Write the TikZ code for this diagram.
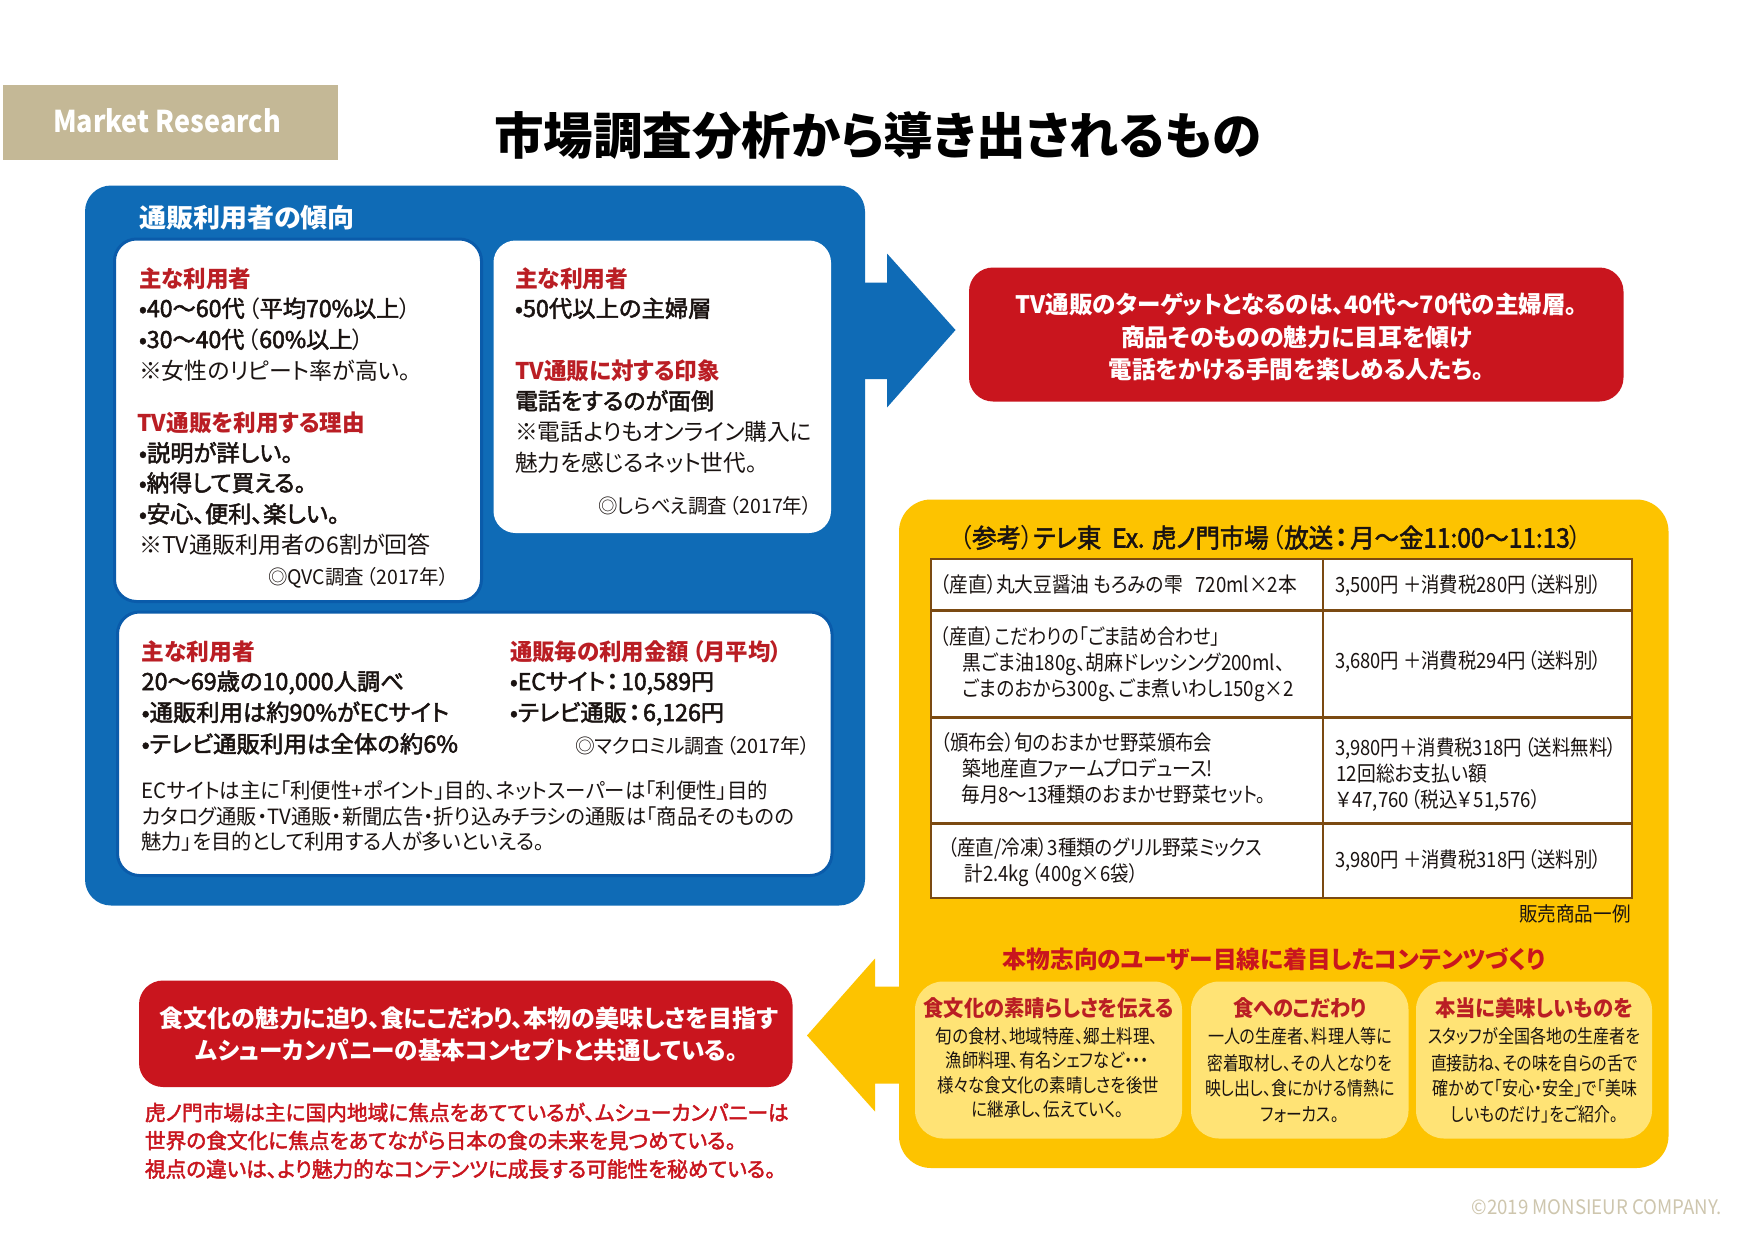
\documentclass[tikz,border=0pt]{standalone}
\usepackage{graphicx}
\usepackage{fontspec}
\newfontfamily\jr[RawFeature={+palt}]{Noto Sans CJK JP}
\newfontfamily\jn{Noto Sans CJK JP}
\definecolor{pblue}{HTML}{0F6BB6}
\definecolor{pblued}{HTML}{0A5BAA}
\definecolor{pred}{HTML}{C9151E}
\definecolor{hred}{HTML}{BA1E24}
\definecolor{pyel}{HTML}{FDC300}
\definecolor{lyel}{HTML}{FFE375}
\definecolor{tan}{HTML}{C4B896}
\definecolor{lightan}{HTML}{CEC6AE}
\definecolor{brown}{HTML}{7B4A12}
\definecolor{ink}{HTML}{1A1311}
\newsavebox\tb
\newlength\tbl
\newcounter{tln}
% one printed line: left x, right x, baseline y, format, text
\newcommand\tl[5]{\stepcounter{tln}%
  \node[anchor=base west,inner sep=0pt,outer sep=0pt] (t\arabic{tln}) at (#1,#3+1)
  {\sbox\tb{#4#5}\setlength\tbl{\wd\tb}\pgfmathsetmacro\tr{(#2-#1)*0.5/\tbl}\scalebox{\tr}[1]{\usebox\tb}};}
% a filled panel: style, name, x1, y1, x2, y2
\newcommand\bx[6]{\node[#1,anchor=north west,inner sep=0pt,outer sep=0pt,
  minimum width={(#5-#3)*0.5pt},minimum height={(#6-#4)*0.5pt}] (#2) at (#3,#4) {};}
\newcommand\jmf[1]{\fontsize{#1}{#1}\selectfont\font\jmface="Noto Sans CJK JP:embolden=2.2;+palt" at #1pt\jmface}
\newcommand\RH[1]{\jr\bfseries\fontsize{#1}{#1}\selectfont\color{hred}}
\newcommand\BK[1]{\jmf{#1}\color{ink}}
\newcommand\RG[1]{\jr\fontsize{#1}{#1}\selectfont\color{ink}}
\newcommand\WH[1]{\jr\bfseries\fontsize{#1}{#1}\selectfont\color{white}}
% full-width glyphs as the reference prints them
\begingroup\jn\xdef\jnfam{\csname f@family\endcsname}\endgroup
\begingroup\jr\xdef\jrfam{\csname f@family\endcsname}\endgroup
\newcommand\ps{{\fontfamily{\jrfam}\selectfont\char"FF08\relax}}
\newcommand\po{{\fontfamily{\jrfam}\selectfont\kern.14em\char"FF08\relax}}
\newcommand\pc{{\fontfamily{\jrfam}\selectfont\char"FF09\relax}}
\newcommand\pl{{\fontfamily{\jnfam}\selectfont\char"FF0B\relax}}
\newcommand\yn{{\fontfamily{\jrfam}\selectfont\char"FFE5\kern.08em\relax}}
\newcommand\cl{{\fontfamily{\jrfam}\bfseries\selectfont\kern.1em\char"FF1A\kern.1em\relax}}
\begin{document}
\begin{tikzpicture}[x=0.5pt,y=-0.5pt,
  banner/.style={fill=tan},
  bluepanel/.style={fill=pblue,rounded corners=13pt},
  whiteplain/.style={fill=white,rounded corners=11pt},
  whitepanel/.style={fill=white,draw=pblued,line width=1.5pt,rounded corners=11pt},
  redpanel/.style={fill=pred,rounded corners=12pt},
  yellowpanel/.style={fill=pyel,rounded corners=16pt},
  lightpanel/.style={fill=lyel,rounded corners=14pt},
  tline/.style={draw=brown,line width=1.1pt}]
\useasboundingbox (0,0) rectangle (1755,1242);
\fill[white] (0,0) rectangle (1755,1242);

\bx{banner}{ban}{3}{85}{338}{159.5}
\tl{53}{281}{131}{\jr\bfseries\fontsize{15}{15}\selectfont\color{white}}{Market Research}
\tl{494}{1261}{153}{\jr\bfseries\fontsize{25}{25}\selectfont\color{black}}{市場調査分析から導き出されるもの}

% blue panel and arrow
\fill[pblue] (860,282.5) -- (887,282.5) -- (887,253.5) -- (955.5,330) -- (887,407.5) -- (887,379) -- (860,379) -- cycle;
\bx{bluepanel}{blue}{85}{185.5}{865}{905.5}
\tl{139}{355}{226}{\jr\bfseries\fontsize{13}{13}\selectfont\color{white}}{通販利用者の傾向}
\bx{whitepanel}{wa}{114.5}{239}{481.5}{601.5}
\bx{whiteplain}{wb}{493.5}{240.5}{831}{533}
\bx{whitepanel}{wc}{117.5}{612}{832}{875.5}

\tl{139}{251}{286.5}{\RH{11.5}}{主な利用者}
\tl{139}{411}{316}{\BK{11.5}}{•40〜60代\po 平均70\%以上\pc}
\tl{139}{364}{347}{\BK{11.5}}{•30〜40代\po 60\%以上\pc}
\tl{139}{411}{378}{\RG{11.5}}{※女性のリピート率が高い。}
\tl{137.5}{365}{430}{\RH{11.5}}{TV通販を利用する理由}
\tl{139}{293}{460.5}{\BK{11.5}}{•説明が詳しい。}
\tl{139}{306}{490.5}{\BK{11.5}}{•納得して買える。}
\tl{139}{339.5}{521.5}{\BK{11.5}}{•安心、便利、楽しい。}
\tl{139}{431}{552.5}{\RG{11.5}}{※TV通販利用者の6割が回答}
\tl{268}{449}{583}{\RG{10}}{◎QVC調査\po 2017年\pc}

\tl{515}{628.5}{286.5}{\RH{11.5}}{主な利用者}
\tl{515}{711.5}{316}{\BK{11.5}}{•50代以上の主婦層}
\tl{515}{720}{378.5}{\RH{11.5}}{TV通販に対する印象}
\tl{515}{714}{408.5}{\BK{11.5}}{電話をするのが面倒}
\tl{515}{812}{439}{\RG{11.5}}{※電話よりもオンライン購入に}
\tl{515}{757.5}{470}{\RG{11.5}}{魅力を感じるネット世代。}
\tl{598}{812}{512}{\RG{10}}{◎しらべえ調査\po 2017年\pc}

\tl{141.7}{255}{659.5}{\RH{11.5}}{主な利用者}
\tl{141.7}{404}{689}{\BK{11.5}}{20〜69歳の10,000人調べ}
\tl{141.7}{449}{720}{\BK{11.5}}{•通販利用は約90\%がECサイト}
\tl{141.7}{458}{751.5}{\BK{11.5}}{•テレビ通販利用は全体の約6\%}
\tl{510}{782}{659.5}{\RH{11.5}}{通販毎の利用金額\po 月平均\pc}
\tl{510}{714}{689}{\BK{11.5}}{•ECサイト\cl 10,589円}
\tl{510}{724}{720}{\BK{11.5}}{•テレビ通販\cl 6,126円}
\tl{575}{810.6}{752.5}{\RG{10}}{◎マクロミル調査\po 2017年\pc}
\tl{141.7}{768}{797.5}{\RG{10.5}}{ECサイトは主に「利便性+ポイント」目的、ネットスーパーは「利便性」目的}
\tl{141.7}{794}{823.5}{\RG{10.5}}{カタログ通販・TV通販・新聞広告・折り込みチラシの通販は「商品そのものの}
\tl{141.7}{544.4}{848.5}{\RG{10.5}}{魅力」を目的として利用する人が多いといえる。}

% top red panel
\bx{redpanel}{redtop}{969}{267.5}{1623.5}{401.5}
\tl{1015.6}{1577.5}{312}{\WH{12}}{TV通販のターゲットとなるのは、40代〜70代の主婦層。}
\tl{1121}{1472.6}{345.5}{\WH{12}}{商品そのものの魅力に目耳を傾け}
\tl{1108.8}{1484}{377.5}{\WH{12}}{電話をかける手間を楽しめる人たち。}

% yellow panel and arrow
\fill[pyel] (902,986.5) -- (875,986.5) -- (875,958.5) -- (807,1035.5) -- (875,1111.5) -- (875,1083.5) -- (902,1083.5) -- cycle;
\bx{yellowpanel}{yel}{899}{499.5}{1668.5}{1168}
\tl{960}{1582}{546.5}{\BK{13}}{\ps 参考\pc テレ東\ \ Ex. 虎ノ門市場\po 放送\cl 月〜金11:00〜11:13\pc}

% table
\bx{fill=white,tline}{tab}{931}{559}{1632}{898}
\draw[tline] (931,610.5) -- (1632,610.5);
\draw[tline] (931,717.5) -- (1632,717.5);
\draw[tline] (931,823.5) -- (1632,823.5);
\draw[tline] (1323,559) -- (1323,898);

\tl{940}{1297}{591.7}{\RG{10.5}}{\ps 産直\pc 丸大豆醤油 もろみの雫\ \ \ 720ml×2本}
\tl{1335}{1601.5}{591.7}{\RG{10.5}}{3,500円 \pl 消費税280円\po 送料別\pc}
\tl{940}{1220}{643}{\RG{10.5}}{\ps 産直\pc こだわりの「ごま詰め合わせ」}
\tl{962.6}{1284.6}{669}{\RG{10.5}}{黒ごま油180g、胡麻ドレッシング200ml、}
\tl{962.6}{1294}{695}{\RG{10.5}}{ごまのおから300g、ごま煮いわし150g×2}
\tl{1335}{1601.5}{667.6}{\RG{10.5}}{3,680円 \pl 消費税294円\po 送料別\pc}
\tl{941}{1212}{749}{\RG{10.5}}{\ps 頒布会\pc 旬のおまかせ野菜頒布会}
\tl{962.6}{1213}{775}{\RG{10.5}}{築地産直ファームプロデュース!}
\tl{961.5}{1266}{801.5}{\RG{10.5}}{毎月8〜13種類のおまかせ野菜セット。}
\tl{1335}{1616.6}{754.6}{\RG{10.5}}{3,980円\pl 消費税318円\po 送料無料\pc}
\tl{1336.5}{1487}{780}{\RG{10.5}}{12回総お支払い額}
\tl{1336.5}{1540}{806}{\RG{10.5}}{\yn 47,760\po 税込\yn 51,576\pc}
\tl{948}{1262}{854}{\RG{10.5}}{\ps 産直/冷凍\pc 3種類のグリル野菜ミックス}
\tl{964.8}{1138}{880.5}{\RG{10.5}}{計2.4kg\po 400g×6袋\pc}
\tl{1335}{1601.5}{866}{\RG{10.5}}{3,980円 \pl 消費税318円\po 送料別\pc}
\tl{1519}{1630.6}{920}{\RG{10}}{販売商品一例}

\tl{1002.8}{1545}{967.5}{\jr\bfseries\fontsize{12}{12}\selectfont\color{pred}}{本物志向のユーザー目線に着目したコンテンツづくり}

\bx{lightpanel}{la}{915}{981.5}{1182}{1138.5}
\bx{lightpanel}{lb}{1191}{981.5}{1408.5}{1138.5}
\bx{lightpanel}{lc}{1416}{981.5}{1652}{1138.5}

\tl{923.5}{1174}{1015}{\RH{11}}{食文化の素晴らしさを伝える}
\tl{935.8}{1158}{1042}{\RG{9.5}}{旬の食材、地域特産、郷土料理、}
\tl{945.8}{1149}{1066}{\RG{9.5}}{漁師料理、有名シェフなど・・・}
\tl{937}{1159}{1091}{\RG{9.5}}{様々な食文化の素晴しさを後世}
\tl{972}{1124}{1115}{\RG{9.5}}{に継承し、伝えていく。}

\tl{1233}{1366.6}{1015}{\RH{11}}{食へのこだわり}
\tl{1208}{1391.7}{1042}{\RG{9.5}}{一人の生産者、料理人等に}
\tl{1207.6}{1392}{1069}{\RG{9.5}}{密着取材し、その人となりを}
\tl{1205}{1394.5}{1094.7}{\RG{9.5}}{映し出し、食にかける情熱に}
\tl{1261}{1338.7}{1120.7}{\RG{9.5}}{フォーカス。}

\tl{1435}{1633}{1015}{\RH{11}}{本当に美味しいものを}
\tl{1428}{1640.6}{1042}{\RG{9.5}}{スタッフが全国各地の生産者を}
\tl{1431}{1638}{1069}{\RG{9.5}}{直接訪ね、その味を自らの舌で}
\tl{1432.5}{1637}{1094.7}{\RG{9.5}}{確かめて「安心・安全」で「美味}
\tl{1451}{1618}{1120.7}{\RG{9.5}}{しいものだけ」をご紹介。}

% bottom red panel
\bx{redpanel}{redbot}{139}{980.5}{792.5}{1087}
\tl{159.5}{778}{1026}{\WH{12}}{食文化の魅力に迫り、食にこだわり、本物の美味しさを目指す}
\tl{196}{738}{1058.5}{\WH{12}}{ムシューカンパニーの基本コンセプトと共通している。}

\tl{145}{788.7}{1119.5}{\jmf{10.5}\color{pred}}{虎ノ門市場は主に国内地域に焦点をあてているが、ムシューカンパニーは}
\tl{145}{736}{1147.5}{\jmf{10.5}\color{pred}}{世界の食文化に焦点をあてながら日本の食の未来を見つめている。}
\tl{145}{775.6}{1176}{\jmf{10.5}\color{pred}}{視点の違いは、より魅力的なコンテンツに成長する可能性を秘めている。}

\tl{1471.5}{1721.5}{1213}{\jr\fontsize{10}{10}\selectfont\color{lightan}}{©2019 MONSIEUR COMPANY.}
\end{tikzpicture}
\end{document}
